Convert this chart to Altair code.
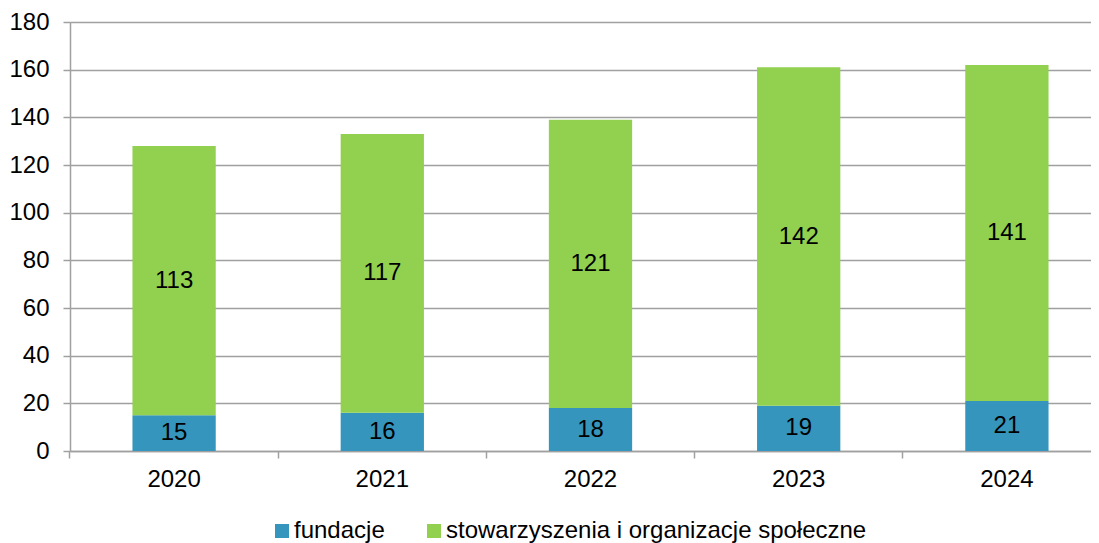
import altair as alt
import pandas as pd

years = ["2020", "2021", "2022", "2023", "2024"]
fundacje = [15, 16, 18, 19, 21]
stowarzyszenia = [113, 117, 121, 142, 141]
series = ["fundacje", "stowarzyszenia i organizacje społeczne"]
colors = ["#3595BD", "#92D050"]

rows = []
for i, y in enumerate(years):
    rows.append({"year": y, "category": series[0], "value": fundacje[i], "ord": 0})
    rows.append({"year": y, "category": series[1], "value": stowarzyszenia[i], "ord": 1})
df = pd.DataFrame(rows)

FONT = "Liberation Sans"
GRID = "#A0A0A0"
FS = 24

xscale = alt.Scale(range=[0, 1041], paddingInner=0.6, paddingOuter=0.3)

bars = alt.Chart(df).mark_bar().encode(
    x=alt.X("year:N", scale=xscale, sort=years,
            axis=alt.Axis(title=None, orient="bottom", bandPosition=-0.75, labels=False,
                          ticks=True, tickSize=7, tickColor=GRID, tickWidth=1.5,
                          domain=True, domainColor=GRID, domainWidth=1.5, grid=False)),
    y=alt.Y("value:Q", stack="zero", scale=alt.Scale(domain=[0, 180], nice=False),
            axis=alt.Axis(title=None, values=list(range(0, 181, 20)), grid=True,
                          gridColor=GRID, gridWidth=1.5, domain=True, domainColor=GRID,
                          domainWidth=1.5, ticks=True, tickSize=7, tickColor=GRID,
                          tickWidth=1.5, labelPadding=14,
                          labelFont=FONT, labelFontSize=FS, labelColor="#000000")),
    color=alt.Color("category:N", scale=alt.Scale(domain=series, range=colors),
                    legend=alt.Legend(title=None, orient="none", direction="horizontal",
                                      legendX=200, legendY=497, symbolType="square",
                                      symbolSize=196, symbolStrokeWidth=0,
                                      labelFont=FONT, labelFontSize=FS, labelColor="#000000",
                                      labelOffset=0, columnPadding=37, padding=0,
                                      labelLimit=0)),
    order=alt.Order("ord:Q"),
)

labels = alt.Chart(df).transform_stack(
    stack="value", groupby=["year"], as_=["y0", "y1"], sort=[alt.SortField("ord")]
).transform_calculate(
    mid="(datum.y0 + datum.y1) / 2"
).mark_text(font=FONT, fontSize=FS, color="#000000", baseline="middle").encode(
    x=alt.X("year:N", scale=xscale, sort=years,
            axis=alt.Axis(title=None, orient="bottom", labelAngle=0, labels=True,
                          ticks=False, domain=False, grid=False, labelPadding=16,
                          labelFont=FONT, labelFontSize=FS, labelColor="#000000")),
    y=alt.Y("mid:Q"),
    text=alt.Text("value:Q"),
)

chart = alt.layer(bars, labels).resolve_axis(x="independent").properties(
    width=1021, height=429,
    autosize=alt.AutoSizeParams(type="none"),
    padding={"left": 62, "top": 14, "right": 0, "bottom": 92},
).configure_view(stroke=None).configure(background="#FFFFFF")

chart.save("out.html", embed_options={"renderer": "svg", "actions": False})
